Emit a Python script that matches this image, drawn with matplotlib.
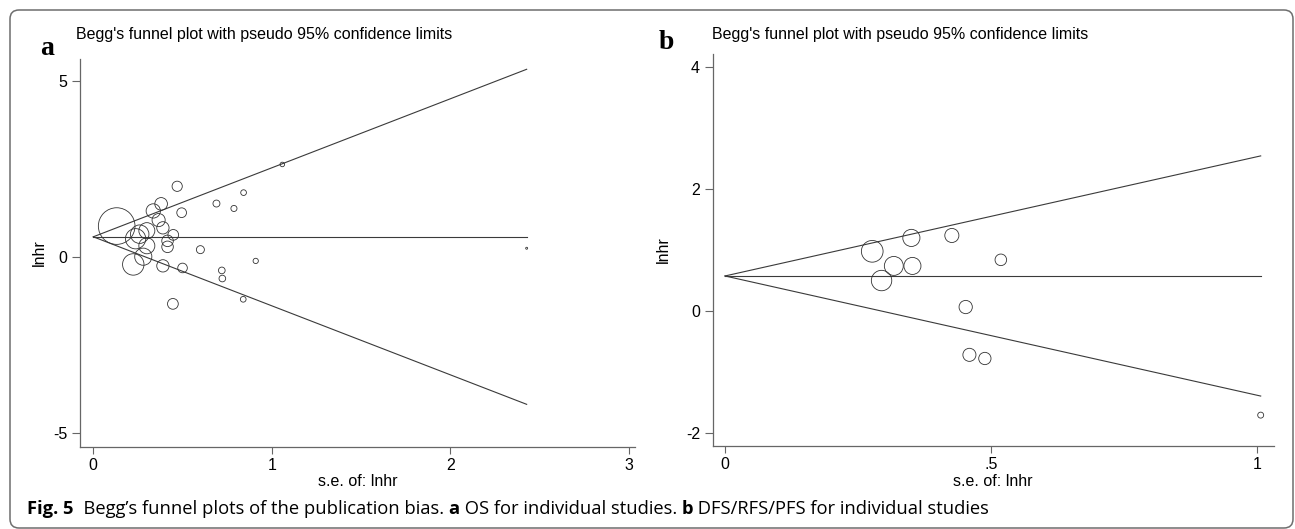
import matplotlib
matplotlib.use("Agg")
import matplotlib.pyplot as plt
import numpy as np
from matplotlib import font_manager
from matplotlib.patches import FancyBboxPatch
from matplotlib.transforms import IdentityTransform

# ---------------- data ----------------
se_a = [0.131, 0.224, 0.237, 0.26, 0.30, 0.28, 0.30, 0.336, 0.38, 0.366, 0.39,
        0.448, 0.416, 0.416, 0.39, 0.50, 0.495, 0.47, 0.446, 0.60, 0.69, 0.788,
        0.842, 0.91, 0.72, 0.723, 0.84, 1.059, 2.428]
lnhr_a = [0.89, -0.20, 0.53, 0.66, 0.76, 0.02, 0.33, 1.32, 1.52, 1.06, 0.84,
          0.64, 0.47, 0.30, -0.24, -0.30, 1.27, 2.02, -1.32, 0.22, 1.53, 1.39,
          1.84, -0.10, -0.37, -0.60, -1.19, 2.64, 0.26]
theta_a = 0.585

se_b = [0.2765, 0.350, 0.426, 0.317, 0.352, 0.294, 0.518, 0.452, 0.459, 0.488, 1.006]
lnhr_b = [0.98, 1.20, 1.24, 0.74, 0.74, 0.50, 0.84, 0.065, -0.72, -0.78, -1.71]
theta_b = 0.575

xticks_a = [0, 1, 2, 3]
xticklabels_a = ["0", "1", "2", "3"]
yticks_a = [-5, 0, 5]
yticklabels_a = ["-5", "0", "5"]
xticks_b = [0, 0.5, 1]
xticklabels_b = ["0", ".5", "1"]
yticks_b = [-2, 0, 2, 4]
yticklabels_b = ["-2", "0", "2", "4"]

title = "Begg's funnel plot with pseudo 95% confidence limits"
xlabel = "s.e. of: lnhr"
ylabel = "lnhr"
z95 = 1.96

# ---------------- fonts ----------------
names = {f.name for f in font_manager.fontManager.ttflist}
narrow = "Liberation Sans Narrow" if "Liberation Sans Narrow" in names else "Liberation Sans"
cap_font = "Open Sans"

W, H = 1295, 529
fig = plt.figure(figsize=(W / 100, H / 100), dpi=100)
fig.patch.set_facecolor("white")

line_col = "#3a3a3a"
axis_col = "#666666"


def make_panel(rect_px, xlim, ylim, se, lnhr, theta, k_px, xt, xtl, yt, ytl):
    l, r, t, b = rect_px
    ax = fig.add_axes([l / W, (H - b) / H, (r - l) / W, (b - t) / H])
    ax.set_xlim(*xlim)
    ax.set_ylim(*ylim)
    for s in ["top", "right"]:
        ax.spines[s].set_visible(False)
    for s in ["left", "bottom"]:
        ax.spines[s].set_color(axis_col)
        ax.spines[s].set_linewidth(0.9)
    se_arr = np.asarray(se)
    smax = se_arr.max()
    xs = np.array([0, smax])
    ax.plot(xs, theta + z95 * xs, color=line_col, lw=0.8)
    ax.plot(xs, theta - z95 * xs, color=line_col, lw=0.8)
    ax.plot(xs, [theta, theta], color=line_col, lw=0.8)
    d_pt = (k_px / se_arr) * 72 / 100
    ax.scatter(se, lnhr, s=d_pt ** 2, facecolors="none", edgecolors="#333333",
               linewidths=0.6, zorder=3)
    ax.set_xticks(xt)
    ax.set_xticklabels(xtl)
    ax.set_yticks(yt)
    ax.set_yticklabels(ytl)
    ax.tick_params(axis="x", direction="out", length=4.7, width=0.8, color=axis_col,
                   pad=3, labelsize=11.5)
    ax.tick_params(axis="y", direction="out", length=6, width=0.8, color=axis_col,
                   pad=3, labelsize=11.5)
    for lab in ax.get_xticklabels() + ax.get_yticklabels():
        lab.set_fontfamily(narrow)
    return ax


ax_a = make_panel((80, 635, 59, 447), (-0.0745, 3.035), (-5.386, 5.636),
                  se_a, lnhr_a, theta_a, 4.8,
                  xticks_a, xticklabels_a, yticks_a, yticklabels_a)
ax_b = make_panel((712.6, 1274, 54, 446), (-0.0233, 1.031), (-2.217, 4.22),
                  se_b, lnhr_b, theta_b, 6.0,
                  xticks_b, xticklabels_b, yticks_b, yticklabels_b)


def ftext(xp, yp, s, **kw):
    return fig.text(xp / W, (H - yp) / H, s, **kw)


# titles
ftext(76, 39, title, fontsize=11.5, family=narrow, va="baseline", ha="left")
ftext(712, 39, title, fontsize=11.5, family=narrow, va="baseline", ha="left")
# panel letters
ftext(47, 55, "a", fontsize=20, family="Liberation Serif", fontweight="bold",
      va="baseline", ha="center")
ftext(666, 49, "b", fontsize=20, family="Liberation Serif", fontweight="bold",
      va="baseline", ha="center")
# axis labels
ftext(357.5, 486, xlabel, fontsize=11.5, family=narrow, va="baseline", ha="center")
ftext(993, 486, xlabel, fontsize=11.5, family=narrow, va="baseline", ha="center")
ftext(39.5, 253, ylabel, fontsize=11.5, family=narrow, va="center", ha="center",
      rotation=90)
ftext(663.6, 250, ylabel, fontsize=11.5, family=narrow, va="center", ha="center",
      rotation=90)

# caption with mixed weights
runs = [("Fig. 5", "bold"), ("  Begg\u2019s funnel plots of the publication bias. ", "normal"),
        ("a", "bold"), (" OS for individual studies. ", "normal"),
        ("b", "bold"), (" DFS/RFS/PFS for individual studies", "normal")]
renderer = fig.canvas.get_renderer()
xp = 27
for txt, wgt in runs:
    t = ftext(xp, 514, txt, fontsize=13.25, family=cap_font, fontweight=wgt,
              va="baseline", ha="left")
    bb = t.get_window_extent(renderer)
    xp += bb.width

# border
border = FancyBboxPatch((10, 1), 1283, 518, boxstyle="round,pad=0,rounding_size=9",
                        transform=IdentityTransform(), facecolor="none",
                        edgecolor="#6e6e6e", linewidth=1.1)
fig.add_artist(border)

fig.savefig("out.png", dpi=100)
